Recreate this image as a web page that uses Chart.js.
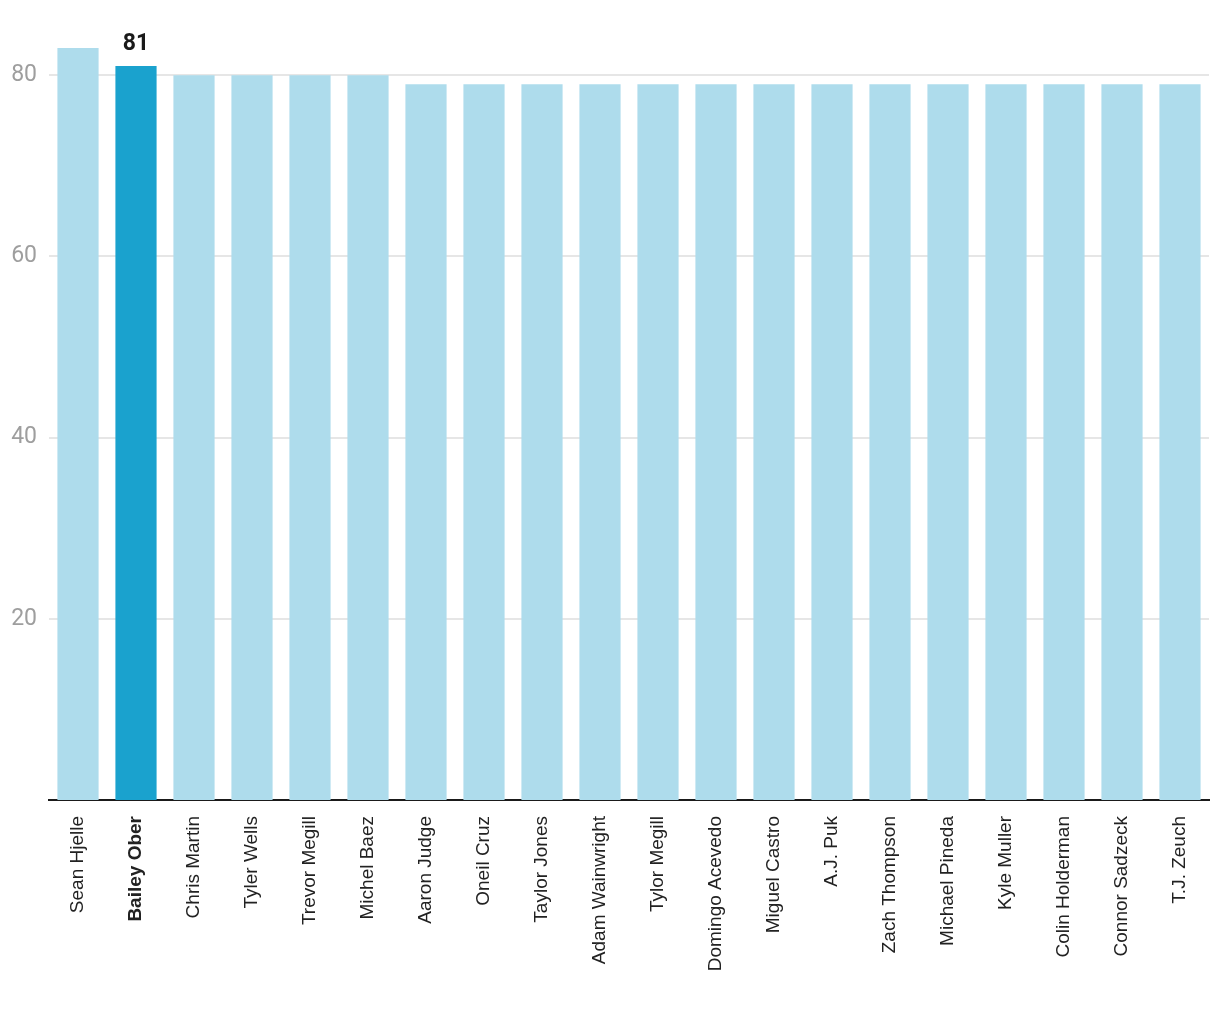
<!DOCTYPE html>
<html>
<head>
<meta charset="utf-8">
<script src="https://cdn.jsdelivr.net/npm/chart.js@4/dist/chart.umd.min.js"></script>
<style>
html,body{margin:0;padding:0;background:#fff;}
#wrap{width:1220px;height:1020px;}
</style>
</head>
<body>
<div id="wrap"><canvas id="c" width="1220" height="1020"></canvas></div>
<script>
const players = ["Sean Hjelle","Bailey Ober","Chris Martin","Tyler Wells","Trevor Megill","Michel Baez","Aaron Judge","Oneil Cruz","Taylor Jones","Adam Wainwright","Tylor Megill","Domingo Acevedo","Miguel Castro","A.J. Puk","Zach Thompson","Michael Pineda","Kyle Muller","Colin Holderman","Connor Sadzeck","T.J. Zeuch"];
const values = [83,81,80,80,80,80,79,79,79,79,79,79,79,79,79,79,79,79,79,79];
const highlightIndex = 1;
const yTicks = [20,40,60,80];
const yMax = 83;

const LIGHT = "#aedcec";
const DARK = "#1aa2ce";

const labelPlugin = {
  id: "valueLabel",
  afterDatasetsDraw(chart) {
    const meta = chart.getDatasetMeta(0);
    const bar = meta.data[highlightIndex];
    const ctx = chart.ctx;
    ctx.save();
    ctx.font = "bold 23px Roboto";
    ctx.fillStyle = "#1a1a1a";
    ctx.textAlign = "center";
    ctx.textBaseline = "alphabetic";
    ctx.fillText(String(values[highlightIndex]), bar.x, bar.y - 16);
    ctx.restore();
  }
};

new Chart(document.getElementById("c"), {
  type: "bar",
  data: {
    labels: players,
    datasets: [{
      data: values,
      backgroundColor: values.map((v, i) => i === highlightIndex ? DARK : LIGHT),
      barPercentage: 0.71,
      categoryPercentage: 1.0,
      borderWidth: 0
    }]
  },
  options: {
    responsive: false,
    animation: false,
    layout: { padding: { top: 48, right: 11, left: 0, bottom: 0 } },
    plugins: { legend: { display: false }, tooltip: { enabled: false } },
    scales: {
      x: {
        grid: { display: false, drawTicks: false },
        border: { display: true, color: "#1a1a1a", width: 2 },
        ticks: {
          minRotation: 90,
          maxRotation: 90,
          autoSkip: false,
          padding: 16,
          color: "#222",
          font: ctx => ({ family: "'Liberation Sans', Arial, sans-serif", size: 19, weight: ctx.index === highlightIndex ? "bold" : "normal" })
        },
        afterFit(scale) { scale.height = 220; }
      },
      y: {
        min: 0,
        max: yMax,
        afterBuildTicks(scale) { scale.ticks = yTicks.map(v => ({ value: v })); },
        afterFit(scale) { scale.width = 49; },
        grid: { color: "#e6e6e6", lineWidth: 2, drawTicks: false },
        border: { display: false },
        ticks: {
          padding: 12,
          color: "#9e9e9e",
          font: { family: "Roboto", size: 23 }
        }
      }
    }
  },
  plugins: [labelPlugin]
});
</script>
</body>
</html>
